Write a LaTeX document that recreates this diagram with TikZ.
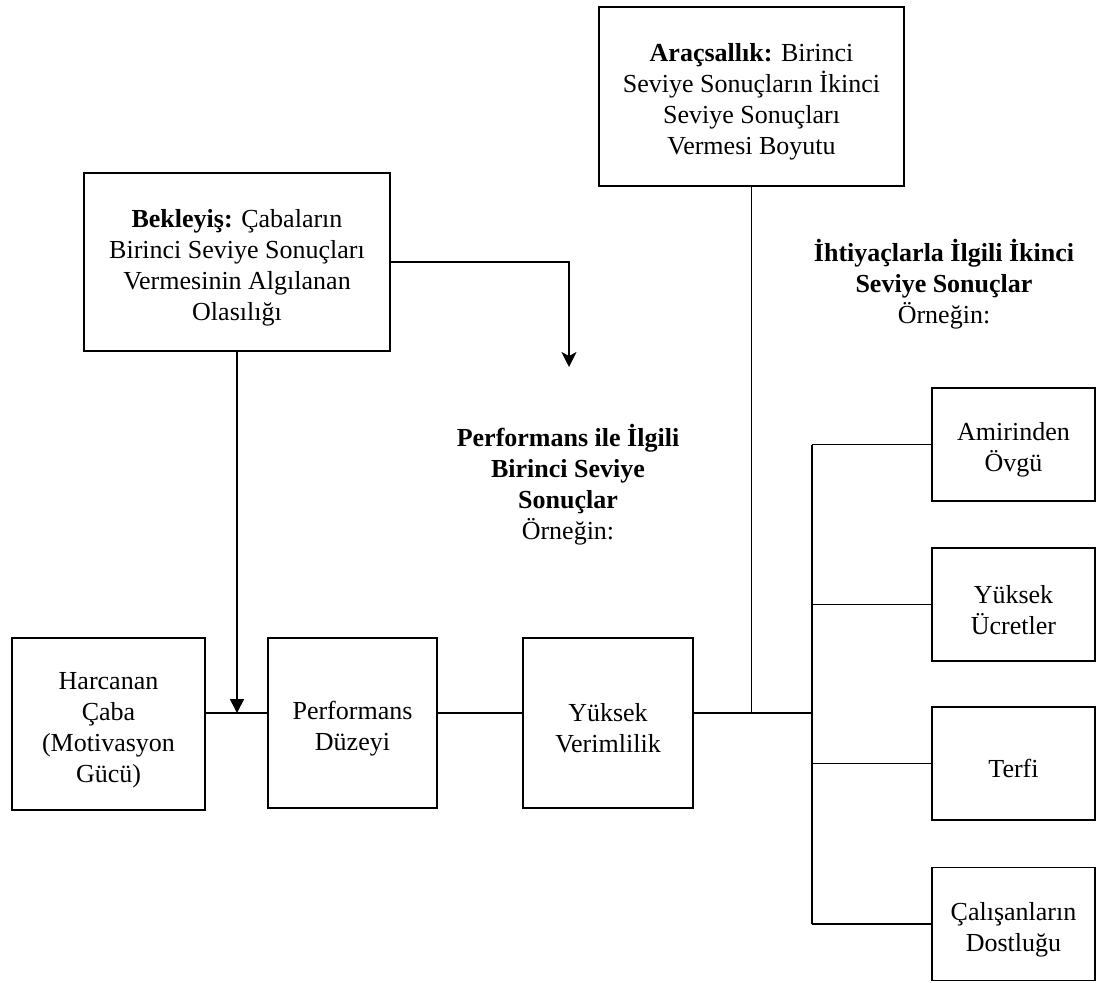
\documentclass[tikz,border=0pt]{standalone}
\usepackage{fontspec}
\setmainfont{Liberation Serif}
\usetikzlibrary{arrows.meta}
\newcommand\tstrut{\rule{0pt}{29pt}}
\begin{document}
\begin{tikzpicture}[x=1pt,y=-1pt,
  box/.style={draw=black, line width=1.7pt, rectangle, inner sep=0pt, align=center,
    font=\fontsize{26}{31}\selectfont},
  lbl/.style={align=center, inner sep=0pt, font=\fontsize{26}{31}\selectfont},
  ln/.style={line width=1.7pt},
  thin/.style={line width=1.4pt}]
\useasboundingbox (0,0) rectangle (1097,982);
% boxes
\node[box, minimum width=306pt, minimum height=178pt] (bek) at (237,262)
  {\tstrut\textbf{Bekleyiş:} Çabaların\\Birinci Seviye Sonuçları\\Vermesinin Algılanan\\Olasılığı};
\node[box, minimum width=305pt, minimum height=179pt] (arac) at (751.5,96.5)
  {\tstrut\textbf{Araçsallık:} Birinci\\Seviye Sonuçların İkinci\\Seviye Sonuçları\\Vermesi Boyutu};
\node[box, minimum width=193pt, minimum height=172pt] (harc) at (108.5,724)
  {\tstrut Harcanan\\Çaba\\(Motivasyon\\Gücü)};
\node[box, minimum width=169pt, minimum height=170pt] (perf) at (352.5,723)
  {\tstrut Performans\\Düzeyi};
\node[box, minimum width=170pt, minimum height=170pt] (yuk) at (608,723)
  {\tstrut Yüksek\\Verimlilik};
\node[box, minimum width=163pt, minimum height=113pt] (amir) at (1013.5,444.5)
  {\tstrut Amirinden\\Övgü};
\node[box, minimum width=163pt, minimum height=113pt] (ucr) at (1013.5,604.5)
  {\tstrut Yüksek\\Ücretler};
\node[box, minimum width=163pt, minimum height=113pt] (terfi) at (1013.5,763.5)
  {\tstrut Terfi};
\node[box, minimum width=163pt, minimum height=113pt] (cal) at (1013.5,924)
  {\tstrut Çalışanların\\Dostluğu};
% free labels
\node[lbl] (perflbl) at (568,485)
  {\textbf{Performans ile İlgili}\\\textbf{Birinci Seviye}\\\textbf{Sonuçlar}\\Örneğin:};
\node[lbl] (ihtlbl) at (944,284)
  {\textbf{İhtiyaçlarla İlgili İkinci}\\\textbf{Seviye Sonuçlar}\\Örneğin:};
% coordinates
\coordinate (m) at (0,713);
\coordinate (br) at (812,713);
\coordinate (bend) at (569,262);
\coordinate (tip) at (569,367);
% connectors
\draw[ln] (harc.east |- m) -- (perf.west |- m);
\draw[ln] (perf.east |- m) -- (yuk.west |- m);
\draw[ln] (yuk.east |- m) -- (br);
\draw[ln, -{Triangle[width=14pt,length=14pt]}] (bek.south) -- (bek.south |- m);
\draw[thin, -{Stealth[width=15pt,length=15pt,inset=4pt]}] (bek.east) -- (bend) -- (tip);
\draw[thin] (arac.south) -- (arac.south |- m);
\draw[ln] (br |- amir.west) -- (br |- cal.west);
\draw[thin] (br |- amir.west) -- (amir.west);
\draw[thin] (br |- ucr.west) -- (ucr.west);
\draw[thin] (br |- terfi.west) -- (terfi.west);
\draw[thin] (br |- cal.west) -- (cal.west);
\end{tikzpicture}
\end{document}
